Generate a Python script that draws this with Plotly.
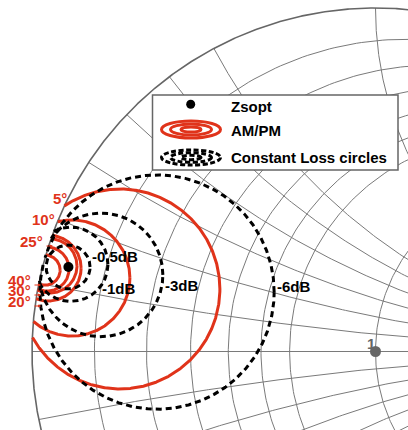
import numpy as np
import plotly.graph_objects as go

# ---------------- data ----------------
# Smith-chart grid values (normalised resistance / reactance)
r_grid = [0.1, 0.2, 0.3, 0.4, 0.5, 0.6, 1.0, 2.0, 5.0]
x_grid = [0.1, 0.2, 0.3, 0.4, 0.5, 0.6, 1.0, 2.0, 5.0]

# optimum source reflection coefficient (Gamma plane)
zsopt_re = [-0.894]
zsopt_im = [0.246]

# AM/PM contours (circles in the Gamma plane)
amp_labels = ["5°", "10°", "20°", "25°", "30°", "40°"]
amp_c_re = [-0.744, -0.884, -0.953, -0.948, -0.956, -0.962]
amp_c_im = [0.182, 0.214, 0.243, 0.249, 0.240, 0.237]
amp_rad = [0.291, 0.169, 0.096, 0.079, 0.064, 0.044]

# constant loss circles (Gamma plane)
loss_labels = ["-0.5dB", "-1dB", "-3dB", "-6dB"]
loss_c_re = [-0.895, -0.887, -0.799, -0.636]
loss_c_im = [0.246, 0.254, 0.223, 0.173]
loss_rad = [0.064, 0.108, 0.180, 0.341]

# reference point
ref_re = [0.0]
ref_im = [0.0]
ref_label = ["1"]

# ---------------- geometry helpers ----------------
W, H = 408, 430
CX, CY, R = 375.5, 351.5, 343.5   # pixel position of Gamma=0 and unit radius


def gam(z):
    return (z - 1) / (z + 1)


def grid_lines():
    xs, ys = [], []
    for r in r_grid:
        g = gam(r + 1j * np.sinh(np.linspace(-9, 9, 1500)))
        xs += list(g.real) + [None]
        ys += list(g.imag) + [None]
    for x in x_grid:
        for s in (1, -1):
            rr = np.concatenate([[0], np.logspace(-3, 3.5, 800)])
            g = gam(rr + 1j * s * x)
            xs += list(g.real) + [None]
            ys += list(g.imag) + [None]
    xs += [-1, 1, None]
    ys += [0, 0, None]
    return xs, ys


def clipped_circle(cr, ci, rad, n=900):
    th = np.linspace(0, 2 * np.pi, n)
    x = cr + rad * np.cos(th)
    y = ci + rad * np.sin(th)
    inside = x ** 2 + y ** 2 <= 1.0
    x = np.where(inside, x, np.nan)
    y = np.where(inside, y, np.nan)
    return x, y


def px2g(px, py):
    return (px - CX) / R, (CY - py) / R


def px2paper(px, py):
    return px / W, 1 - py / H


RED = "#e0331a"
GRID = "#7a7a7a"
FONT = "Arial, Liberation Sans, sans-serif"

fig = go.Figure()

gx, gy = grid_lines()
fig.add_trace(go.Scatter(x=gx, y=gy, mode="lines",
                         line=dict(color=GRID, width=1), hoverinfo="skip"))
th = np.linspace(0, 2 * np.pi, 1500)
fig.add_trace(go.Scatter(x=np.cos(th), y=np.sin(th), mode="lines",
                         line=dict(color="#666666", width=1.6), hoverinfo="skip"))

for lab, cr, ci, rd in zip(amp_labels, amp_c_re, amp_c_im, amp_rad):
    x, y = clipped_circle(cr, ci, rd)
    fig.add_trace(go.Scatter(x=x, y=y, mode="lines", name=lab,
                             line=dict(color=RED, width=3)))

for lab, cr, ci, rd in zip(loss_labels, loss_c_re, loss_c_im, loss_rad):
    x, y = clipped_circle(cr, ci, rd)
    fig.add_trace(go.Scatter(x=x, y=y, mode="lines", name=lab,
                             line=dict(color="black", width=3, dash="6px,4px")))

fig.add_trace(go.Scatter(x=zsopt_re, y=zsopt_im, mode="markers",
                         marker=dict(color="black", size=10), name="Zsopt"))
fig.add_trace(go.Scatter(x=ref_re, y=ref_im, mode="markers",
                         marker=dict(color="#666666", size=11), name="ref"))

ann = []
ann.append(dict(x=ref_re[0], y=ref_im[0], xref="x", yref="y", text="<b>%s</b>" % ref_label[0],
                showarrow=False, xshift=-5, yshift=8,
                font=dict(family=FONT, size=15, color="#666666")))

loss_shift = [(0, 11), (-8, -24), (0, -11), (1, 6)]
for lab, cr, ci, rd, (sx, sy) in zip(loss_labels, loss_c_re, loss_c_im, loss_rad, loss_shift):
    ann.append(dict(x=cr + rd, y=ci, xref="x", yref="y", text="<b>%s</b>" % lab,
                    showarrow=False, xanchor="left", yanchor="middle",
                    xshift=sx, yshift=sy,
                    font=dict(family=FONT, size=15, color="black")))

amp_lab_pos = {"5°": (69, 198), "10°": (57, 219), "25°": (45, 241),
               "40°": (33, 280), "30°": (33, 290), "20°": (33, 301)}
arrow_labels = ["25°", "40°", "30°", "20°"]
for lab in amp_labels:
    px, py = amp_lab_pos[lab]
    xg, yg = px2g(px, py)
    ann.append(dict(x=xg, y=yg, xref="x", yref="y", text="<b>%s</b>" % lab,
                    showarrow=False, xanchor="right", yanchor="middle",
                    font=dict(family=FONT, size=15, color=RED)))
    if lab in arrow_labels:
        tx, ty = px2g(px + 8, py + 5)
        ann.append(dict(x=tx, y=ty, xref="x", yref="y", text="",
                        showarrow=True, ax=-8, ay=0, arrowhead=2, arrowsize=0.6,
                        arrowwidth=1, arrowcolor=RED))

# ---------------- custom legend ----------------
shapes = []
x0, y0 = px2paper(152.5, 95)
x1, y1 = px2paper(398, 170)
shapes.append(dict(type="rect", xref="paper", yref="paper", x0=x0, y0=y1, x1=x1, y1=y0,
                   fillcolor="white", line=dict(color="#666666", width=1.5), layer="above"))


def ellipse(cx, cy, hw, hh, color, width, dash="solid", fill="rgba(0,0,0,0)"):
    a0, b0 = px2paper(cx - hw, cy + hh)
    a1, b1 = px2paper(cx + hw, cy - hh)
    return dict(type="circle", xref="paper", yref="paper", x0=a0, y0=b0, x1=a1, y1=b1,
                line=dict(color=color, width=width, dash=dash), fillcolor=fill, layer="above")


shapes.append(ellipse(190.7, 104.3, 4.5, 4.5, "black", 0, fill="black"))
for hw, hh in [(29.5, 8.5), (20.5, 5.5), (10, 2.6)]:
    shapes.append(ellipse(191, 129.5, hw, hh, RED, 3))
for hw, hh in [(29.5, 7.5), (20.5, 4.8), (10, 2.2)]:
    shapes.append(ellipse(191, 157.5, hw, hh, "black", 3, dash="5px,2.5px"))

for txt, yy in [("Zsopt", 107), ("AM/PM", 130.5), ("Constant Loss circles", 157.5)]:
    ax_, ay_ = px2paper(228.5, yy)
    ann.append(dict(x=ax_, y=ay_, xref="paper", yref="paper", text="<b>%s</b>" % txt,
                    showarrow=False, xanchor="left", yanchor="middle",
                    font=dict(family=FONT, size=15, color="black")))

xr = [(0 - CX) / R, (W - CX) / R]
yr = [(CY - H) / R, CY / R]
fig.update_layout(
    width=W, height=H, margin=dict(l=0, r=0, t=0, b=0),
    paper_bgcolor="white", plot_bgcolor="white", showlegend=False,
    xaxis=dict(range=xr, visible=False, fixedrange=True),
    yaxis=dict(range=yr, visible=False, fixedrange=True),
    shapes=shapes, annotations=ann,
)
fig.write_html("out.html", config={"displayModeBar": False},
               post_script="document.body.style.margin='0px';document.body.style.overflow='hidden';")
